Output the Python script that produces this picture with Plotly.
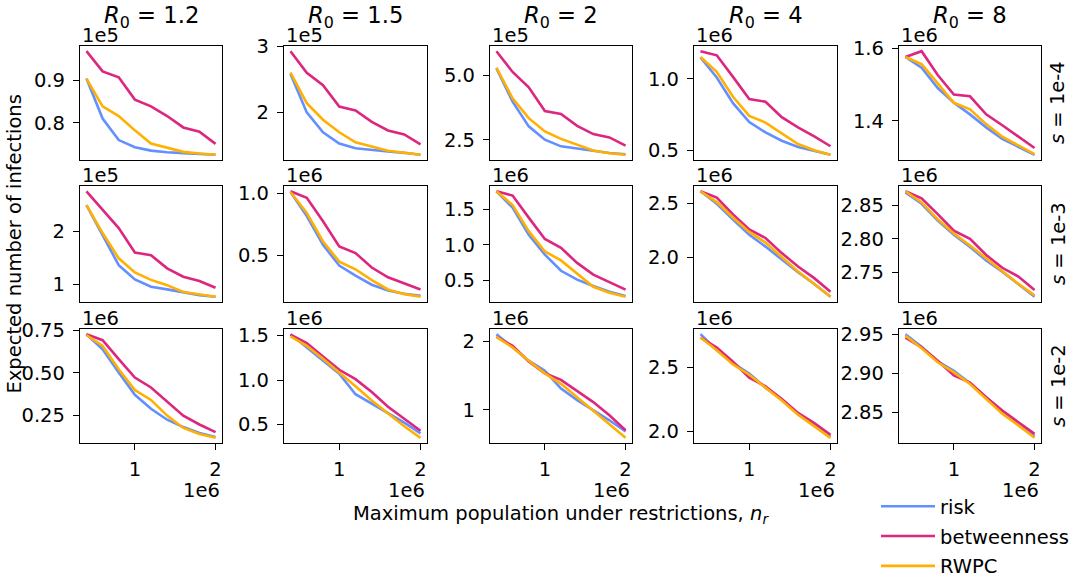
import plotly.graph_objects as go

# ---------------- data ----------------
x_values = [400000, 600000, 800000, 1000000, 1200000, 1400000, 1600000, 1800000, 2000000]
R0_labels = ["1.2", "1.5", "2", "4", "8"]
s_labels = ["1e-4", "1e-3", "1e-2"]
series_names = ["risk", "betweenness", "RWPC"]

# multiplier shown as offset text for each panel (rows = s, cols = R0)
scales = [[1e5, 1e5, 1e5, 1e6, 1e6],
          [1e5, 1e6, 1e6, 1e6, 1e6],
          [1e6, 1e6, 1e6, 1e6, 1e6]]

# values in units of the panel multiplier
risk_s1e4 = [[0.905, 0.810, 0.759, 0.742, 0.734, 0.730, 0.728, 0.726, 0.724],
             [2.58, 2.00, 1.70, 1.53, 1.46, 1.43, 1.41, 1.39, 1.36],
             [5.28, 3.98, 3.02, 2.50, 2.24, 2.15, 2.05, 1.98, 1.93],
             [1.15, 1.01, 0.83, 0.697, 0.625, 0.567, 0.523, 0.493, 0.468],
             [1.577, 1.547, 1.491, 1.450, 1.418, 1.382, 1.350, 1.327, 1.306]]
betw_s1e4 = [[0.970, 0.922, 0.908, 0.855, 0.839, 0.816, 0.789, 0.779, 0.750],
             [2.925, 2.597, 2.413, 2.09, 2.03, 1.857, 1.727, 1.667, 1.518],
             [5.95, 5.14, 4.54, 3.62, 3.50, 3.04, 2.72, 2.59, 2.27],
             [1.194, 1.165, 1.014, 0.859, 0.840, 0.732, 0.660, 0.597, 0.528],
             [1.577, 1.593, 1.527, 1.473, 1.468, 1.418, 1.388, 1.357, 1.325]]
rwpc_s1e4 = [[0.905, 0.839, 0.816, 0.782, 0.751, 0.741, 0.731, 0.727, 0.724],
             [2.60, 2.14, 1.89, 1.70, 1.55, 1.48, 1.42, 1.39, 1.36],
             [5.31, 4.11, 3.34, 2.82, 2.53, 2.31, 2.08, 1.97, 1.91],
             [1.153, 1.049, 0.875, 0.741, 0.694, 0.621, 0.544, 0.500, 0.468],
             [1.577, 1.557, 1.504, 1.450, 1.432, 1.391, 1.356, 1.331, 1.308]]

risk_s1e3 = [[2.50, 1.94, 1.36, 1.09, 0.95, 0.90, 0.84, 0.79, 0.76],
             [1.013, 0.818, 0.586, 0.418, 0.336, 0.263, 0.217, 0.190, 0.174],
             [1.75, 1.52, 1.14, 0.86, 0.634, 0.51, 0.42, 0.34, 0.28],
             [2.612, 2.497, 2.35, 2.21, 2.10, 1.98, 1.862, 1.754, 1.636],
             [2.869, 2.852, 2.827, 2.806, 2.788, 2.768, 2.751, 2.732, 2.714]]
betw_s1e3 = [[2.764, 2.415, 2.065, 1.60, 1.55, 1.30, 1.14, 1.06, 0.93],
             [1.019, 0.967, 0.777, 0.573, 0.519, 0.402, 0.323, 0.274, 0.225],
             [1.75, 1.69, 1.38, 1.08, 0.955, 0.745, 0.58, 0.473, 0.37],
             [2.612, 2.553, 2.397, 2.258, 2.180, 2.04, 1.916, 1.808, 1.683],
             [2.8706, 2.860, 2.8366, 2.812, 2.800, 2.776, 2.757, 2.744, 2.724]]
rwpc_s1e3 = [[2.50, 1.97, 1.49, 1.22, 1.08, 0.98, 0.85, 0.80, 0.76],
             [1.013, 0.843, 0.613, 0.450, 0.388, 0.301, 0.225, 0.187, 0.166],
             [1.75, 1.557, 1.19, 0.905, 0.78, 0.60, 0.41, 0.325, 0.27],
             [2.612, 2.512, 2.37, 2.236, 2.137, 2.006, 1.87, 1.754, 1.636],
             [2.8706, 2.854, 2.829, 2.808, 2.790, 2.771, 2.752, 2.733, 2.716]]

risk_s1e2 = [[0.727, 0.639, 0.503, 0.372, 0.290, 0.226, 0.183, 0.148, 0.125],
             [1.515, 1.37, 1.22, 1.07, 0.84, 0.73, 0.625, 0.52, 0.40],
             [2.108, 1.92, 1.72, 1.57, 1.31, 1.14, 0.99, 0.845, 0.68],
             [2.755, 2.63, 2.53, 2.45, 2.34, 2.25, 2.14, 2.055, 1.96],
             [2.950, 2.934, 2.915, 2.903, 2.887, 2.869, 2.851, 2.835, 2.819]]
betw_s1e2 = [[0.727, 0.692, 0.581, 0.473, 0.415, 0.331, 0.250, 0.198, 0.153],
             [1.511, 1.414, 1.265, 1.115, 1.01, 0.864, 0.70, 0.56, 0.43],
             [2.068, 1.937, 1.709, 1.534, 1.438, 1.272, 1.112, 0.918, 0.70],
             [2.729, 2.651, 2.541, 2.417, 2.35, 2.252, 2.143, 2.065, 1.974],
             [2.9457, 2.933, 2.916, 2.897, 2.888, 2.869, 2.852, 2.837, 2.822]]
rwpc_s1e2 = [[0.722, 0.658, 0.522, 0.400, 0.342, 0.250, 0.178, 0.143, 0.120],
             [1.49, 1.385, 1.24, 1.09, 0.93, 0.77, 0.625, 0.48, 0.35],
             [2.068, 1.913, 1.719, 1.534, 1.38, 1.185, 0.991, 0.797, 0.588],
             [2.729, 2.63, 2.52, 2.44, 2.34, 2.24, 2.13, 2.04, 1.95],
             [2.948, 2.932, 2.914, 2.901, 2.886, 2.867, 2.848, 2.833, 2.817]]

risk_rows = [risk_s1e4, risk_s1e3, risk_s1e2]
betw_rows = [betw_s1e4, betw_s1e3, betw_s1e2]
rwpc_rows = [rwpc_s1e4, rwpc_s1e3, rwpc_s1e2]

ytick_values = [[[0.8, 0.9], [2, 3], [2.5, 5.0], [0.5, 1.0], [1.4, 1.6]],
                [[1, 2], [0.5, 1.0], [0.5, 1.0, 1.5], [2.0, 2.5], [2.75, 2.80, 2.85]],
                [[0.25, 0.50, 0.75], [0.5, 1.0, 1.5], [1, 2], [2.0, 2.5], [2.85, 2.90, 2.95]]]
ytick_text = [[["0.8", "0.9"], ["2", "3"], ["2.5", "5.0"], ["0.5", "1.0"], ["1.4", "1.6"]],
              [["1", "2"], ["0.5", "1.0"], ["0.5", "1.0", "1.5"], ["2.0", "2.5"], ["2.75", "2.80", "2.85"]],
              [["0.25", "0.50", "0.75"], ["0.5", "1.0", "1.5"], ["1", "2"], ["2.0", "2.5"], ["2.85", "2.90", "2.95"]]]
xtick_values = [1000000, 2000000]
xtick_text = ["1", "2"]

# ---------------- styling / layout ----------------
W, H = 1077, 581
FONT = "DejaVu Sans"
FS = 19.5
colors = {"risk": "#648FFF", "betweenness": "#DC267F", "RWPC": "#FFB000"}
col_left = [80, 284, 490, 694, 899]
col_right = [222, 427, 632, 837, 1041]
row_top = [46, 186, 329]
row_bottom = [160, 302, 443]

fig = go.Figure()
layout = {}
annotations = []

xmin, xmax = min(x_values), max(x_values)
xpad = 0.05 * (xmax - xmin)

for r in range(3):
    for c in range(5):
        idx = r * 5 + c + 1
        xa = "x" if idx == 1 else f"x{idx}"
        ya = "y" if idx == 1 else f"y{idx}"
        sc = scales[r][c]
        data = {"risk": risk_rows[r][c], "betweenness": betw_rows[r][c], "RWPC": rwpc_rows[r][c]}
        allv = []
        for name in series_names:
            vals = [v * sc for v in data[name]]
            allv += vals
            fig.add_trace(go.Scatter(
                x=x_values, y=vals, mode="lines", name=name,
                line=dict(color=colors[name], width=2.6),
                showlegend=(idx == 1), legendgroup=name,
                xaxis=xa, yaxis=ya, hoverinfo="skip"))
        ymin, ymax = min(allv), max(allv)
        ypad = 0.05 * (ymax - ymin)
        bottom_row = (r == 2)
        xdict = dict(
            domain=[col_left[c] / W, col_right[c] / W], anchor=ya,
            range=[xmin - xpad, xmax + xpad],
            showline=True, mirror=True, linecolor="black", linewidth=1.4,
            showgrid=False, zeroline=False, automargin=False,
            tickfont=dict(family=FONT, size=FS, color="black"))
        if bottom_row:
            xdict.update(tickvals=xtick_values, ticktext=xtick_text, ticks="outside",
                         ticklen=6, tickwidth=1.4, tickcolor="black",
                         ticklabelstandoff=2, showticklabels=True)
        else:
            xdict.update(showticklabels=False, ticks="", tickvals=[])
        layout["xaxis" if idx == 1 else f"xaxis{idx}"] = xdict
        layout["yaxis" if idx == 1 else f"yaxis{idx}"] = dict(
            domain=[1 - row_bottom[r] / H, 1 - row_top[r] / H], anchor=xa,
            range=[ymin - ypad, ymax + ypad],
            tickvals=[v * sc for v in ytick_values[r][c]], ticktext=ytick_text[r][c],
            ticks="outside", ticklen=6, tickwidth=1.4, tickcolor="black",
            showline=True, mirror=True, linecolor="black", linewidth=1.4,
            showgrid=False, zeroline=False, ticklabelstandoff=4, automargin=False,
            tickfont=dict(family=FONT, size=FS, color="black"))
        # offset text (multiplier) at top-left
        annotations.append(dict(
            text="1e5" if sc == 1e5 else "1e6", xref="paper", yref="paper",
            x=col_left[c] / W, y=1 - (row_top[r] + 3) / H,
            xanchor="left", yanchor="bottom", showarrow=False,
            font=dict(family=FONT, size=FS, color="black")))
        if bottom_row:
            annotations.append(dict(
                text="1e6", xref="paper", yref="paper",
                x=col_right[c] / W, y=1 - 490 / H,
                xanchor="right", yanchor="middle", showarrow=False,
                font=dict(family=FONT, size=FS, color="black")))

# column titles
for c in range(5):
    annotations.append(dict(
        text=f"<i>R</i><sub>0</sub> = {R0_labels[c]}", xref="paper", yref="paper",
        x=(col_left[c] + col_right[c]) / 2 / W, y=1 - 17 / H,
        xanchor="center", yanchor="middle", showarrow=False,
        font=dict(family=FONT, size=22.7, color="black")))

# row labels on the right
for r in range(3):
    annotations.append(dict(
        text=f"<i>s</i> = {s_labels[r]}", xref="paper", yref="paper",
        x=1058 / W, y=1 - (row_top[r] + row_bottom[r]) / 2 / H,
        xanchor="center", yanchor="middle", textangle=-90, showarrow=False,
        font=dict(family=FONT, size=FS, color="black")))

# axis labels
annotations.append(dict(
    text="Maximum population under restrictions, <i>n</i><sub><i>r</i></sub>",
    xref="paper", yref="paper", x=(col_left[0] + col_right[4]) / 2 / W, y=1 - 514 / H,
    xanchor="center", yanchor="middle", showarrow=False,
    font=dict(family=FONT, size=FS, color="black")))
annotations.append(dict(
    text="Expected number of infections",
    xref="paper", yref="paper", x=14 / W, y=1 - (row_top[0] + row_bottom[2]) / 2 / H,
    xanchor="center", yanchor="middle", textangle=-90, showarrow=False,
    font=dict(family=FONT, size=FS, color="black")))

fig.update_layout(
    width=W, height=H,
    margin=dict(l=0, r=0, t=0, b=0, autoexpand=False),
    paper_bgcolor="white", plot_bgcolor="white",
    font=dict(family=FONT, size=FS, color="black"),
    annotations=annotations,
    legend=dict(x=876 / W, y=-5 / H, xanchor="left", yanchor="bottom",
                font=dict(family=FONT, size=FS, color="black"),
                bgcolor="rgba(0,0,0,0)", traceorder="grouped", tracegroupgap=1.5,
                itemwidth=54),
    **layout)

fig.write_html("out.html")
